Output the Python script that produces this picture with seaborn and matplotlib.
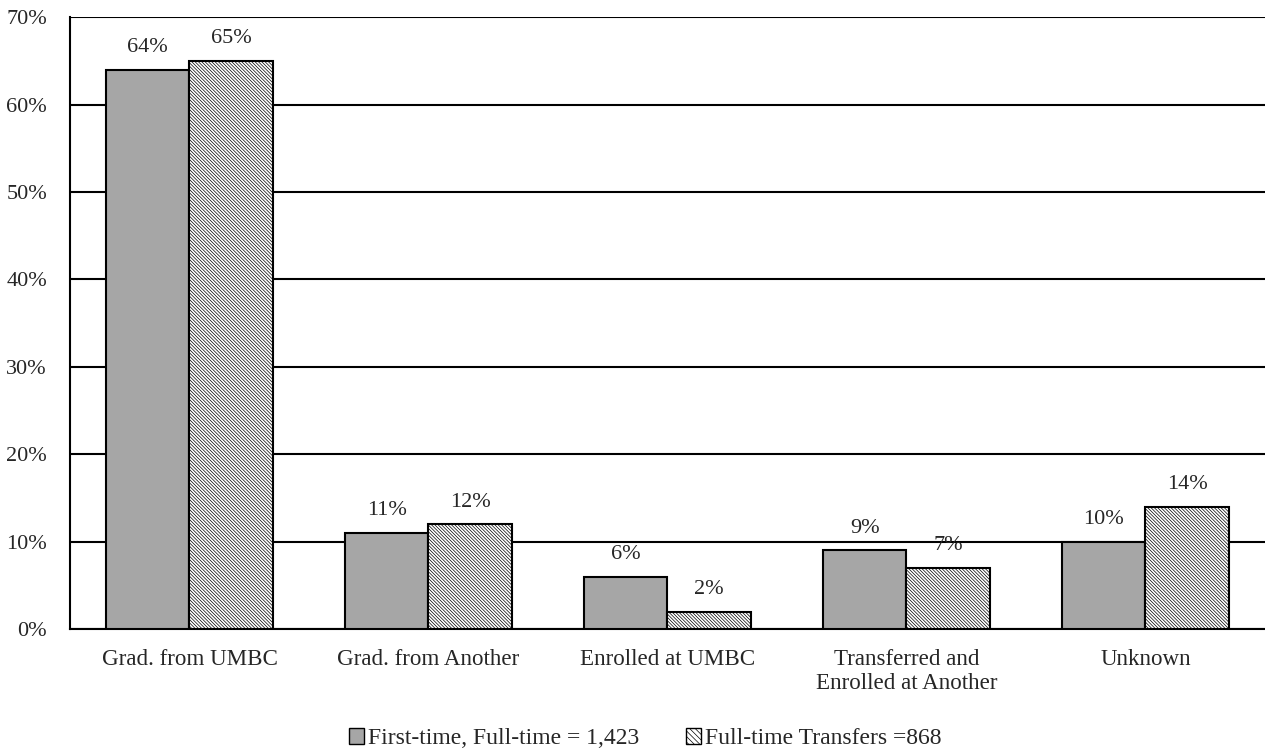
import pandas as pd
import matplotlib
matplotlib.use("Agg")
import matplotlib.pyplot as plt
import seaborn as sns
from matplotlib.patches import Patch

categories = ["Grad. from UMBC", "Grad. from Another", "Enrolled at UMBC",
              "Transferred and\nEnrolled at Another", "Unknown"]
first_time = [64, 11, 6, 9, 10]
transfers = [65, 12, 2, 7, 14]
series_names = ["First-time, Full-time = 1,423", "Full-time Transfers =868"]

df = pd.DataFrame({
    "category": categories * 2,
    "value": first_time + transfers,
    "group": [series_names[0]] * 5 + [series_names[1]] * 5,
})

sns.set_style("white")
plt.rcParams["font.family"] = ["Liberation Serif", "DejaVu Serif"]
plt.rcParams["hatch.color"] = "#9a9a9a"
plt.rcParams["hatch.linewidth"] = 0.5

fig = plt.figure(figsize=(12.65, 7.48), dpi=100)
ax = fig.add_axes([0.0553, 0.159, 0.9447, 0.818])

sns.barplot(data=df, x="category", y="value", hue="group", ax=ax,
            palette=["#a6a6a6", "white"], width=0.7, edgecolor="black",
            linewidth=1.5, saturation=1, legend=False, zorder=3)

# hatch the transfer bars
for bar in ax.containers[1]:
    bar.set_hatch("\\" * 10)

for cont in ax.containers:
    ax.bar_label(cont, labels=[f"{v:.0f}%" for v in cont.datavalues],
                 padding=9, fontsize=16)

ax.set_ylim(0, 70)
ax.set_yticks(range(0, 71, 10))
ax.set_yticklabels([f"{t}%" for t in range(0, 71, 10)], fontsize=16)
ax.tick_params(axis="x", labelsize=16.6, length=0, pad=14)
ax.tick_params(axis="y", length=0, pad=16.5)
ax.set_xlabel("")
ax.set_ylabel("")
ax.yaxis.grid(True, color="black", linewidth=1.5, zorder=0)
ax.set_axisbelow(True)
for s in ["top", "right"]:
    ax.spines[s].set_visible(False)
ax.spines["left"].set_color("black")
ax.spines["left"].set_linewidth(1.5)
ax.spines["bottom"].set_color("black")
ax.spines["bottom"].set_linewidth(1.5)

handles = [Patch(facecolor="#a6a6a6", edgecolor="black", linewidth=1),
           Patch(facecolor="white", edgecolor="black", linewidth=1, hatch="\\" * 6)]
fig.legend(handles, series_names, loc="lower center", bbox_to_anchor=(0.51, -0.03),
           ncol=2, frameon=False, fontsize=17, handlelength=0.65, handleheight=0.65,
           handletextpad=0.15, columnspacing=2.0)

fig.savefig("out.png", dpi=100)
